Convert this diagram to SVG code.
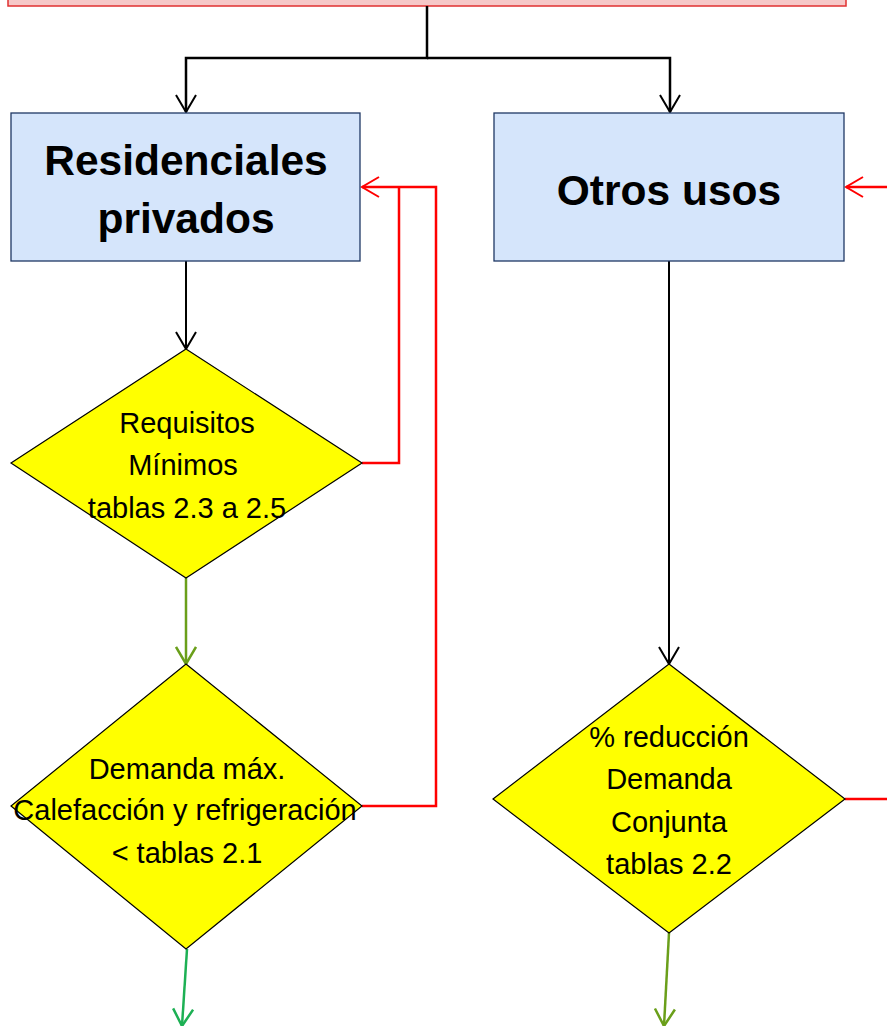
<svg xmlns="http://www.w3.org/2000/svg" width="887" height="1026" viewBox="0 0 887 1026">
<defs>
<style>
.box{fill:#d5e5fb;stroke:#1f3864;stroke-width:1.3}
.dia{fill:#ffff00;stroke:#000;stroke-width:1.2}
.tb{font-family:"Liberation Sans",Arial,sans-serif;font-weight:bold;font-size:42.5px;fill:#000;text-anchor:middle}
.tr{font-family:"Liberation Sans",Arial,sans-serif;font-size:29px;fill:#000;text-anchor:middle}
.k{fill:none;stroke:#000;stroke-width:2.5}
.kt{fill:none;stroke:#000;stroke-width:2}
.r{fill:none;stroke:#ff0000;stroke-width:2.5}
.g{fill:none;stroke:#6a9f1a;stroke-width:2.5}
.e{fill:none;stroke:#1db054;stroke-width:2.5}
</style>
<marker id="ak" markerUnits="userSpaceOnUse" viewBox="0 0 20 22" markerWidth="20" markerHeight="22" refX="18" refY="11" orient="auto"><path d="M1,1 L18,11 L1,21" fill="none" stroke="#000" stroke-width="2"/></marker>
<marker id="ar" markerUnits="userSpaceOnUse" viewBox="0 0 20 22" markerWidth="20" markerHeight="22" refX="18" refY="11" orient="auto"><path d="M1,1 L18,11 L1,21" fill="none" stroke="#ff0000" stroke-width="2"/></marker>
<marker id="ag" markerUnits="userSpaceOnUse" viewBox="0 0 20 22" markerWidth="20" markerHeight="22" refX="18" refY="11" orient="auto"><path d="M1,1 L18,11 L1,21" fill="none" stroke="#6a9f1a" stroke-width="2.5"/></marker>
<marker id="ae" markerUnits="userSpaceOnUse" viewBox="0 0 20 22" markerWidth="20" markerHeight="22" refX="18" refY="11" orient="auto"><path d="M1,1 L18,11 L1,21" fill="none" stroke="#1db054" stroke-width="2.5"/></marker>
</defs>
<rect width="887" height="1026" fill="#fff"/>
<g id="top">
<rect x="8" y="-20" width="838" height="26" fill="#f6c8c8" stroke="#e03030" stroke-width="1.5"/>
</g>
<g id="connectors">
<path class="k" d="M427,6 V58 H186 V112" marker-end="url(#ak)"/>
<path class="k" d="M427,58 H670 V112" marker-end="url(#ak)"/>
<path class="kt" d="M186,261 V349" marker-end="url(#ak)"/>
<path class="kt" d="M669,261 V664" marker-end="url(#ak)"/>
<path class="g" d="M186,578 V664" marker-end="url(#ag)"/>
<path class="e" d="M187,949 L182,1026" marker-end="url(#ae)"/>
<path class="g" d="M669,933 L664,1026" marker-end="url(#ag)"/>
<path class="r" d="M362,463 H399 V187"/>
<path class="r" d="M362,806 H436 V187 H362" marker-end="url(#ar)"/>
<path class="r" d="M887,187 H846" marker-end="url(#ar)"/>
<path class="r" d="M845,799 H887"/>
</g>
<g id="residenciales">
<rect class="box" x="11" y="113" width="349" height="148"/>
<text class="tb" x="186" y="175">Residenciales</text>
<text class="tb" x="186" y="233">privados</text>
</g>
<g id="otros">
<rect class="box" x="494" y="113" width="350" height="148"/>
<text class="tb" x="669" y="205">Otros usos</text>
</g>
<g id="requisitos">
<polygon class="dia" points="186,349 362,463 186,578 11,463"/>
<text class="tr" x="187" y="433">Requisitos</text>
<text class="tr" x="183" y="475">Mínimos</text>
<text class="tr" x="187" y="518">tablas 2.3 a 2.5</text>
</g>
<g id="demanda">
<polygon class="dia" points="186,664 362,806 186,949 11,806"/>
<text class="tr" x="187" y="779">Demanda máx.</text>
<text class="tr" x="185" y="820">Calefacción y refrigeración</text>
<text class="tr" x="187" y="863">&lt; tablas 2.1</text>
</g>
<g id="reduccion">
<polygon class="dia" points="669,664 845,799 669,933 493,799"/>
<text class="tr" x="669" y="747">% reducción</text>
<text class="tr" x="669" y="789">Demanda</text>
<text class="tr" x="669" y="832">Conjunta</text>
<text class="tr" x="669" y="874">tablas 2.2</text>
</g>
</svg>
